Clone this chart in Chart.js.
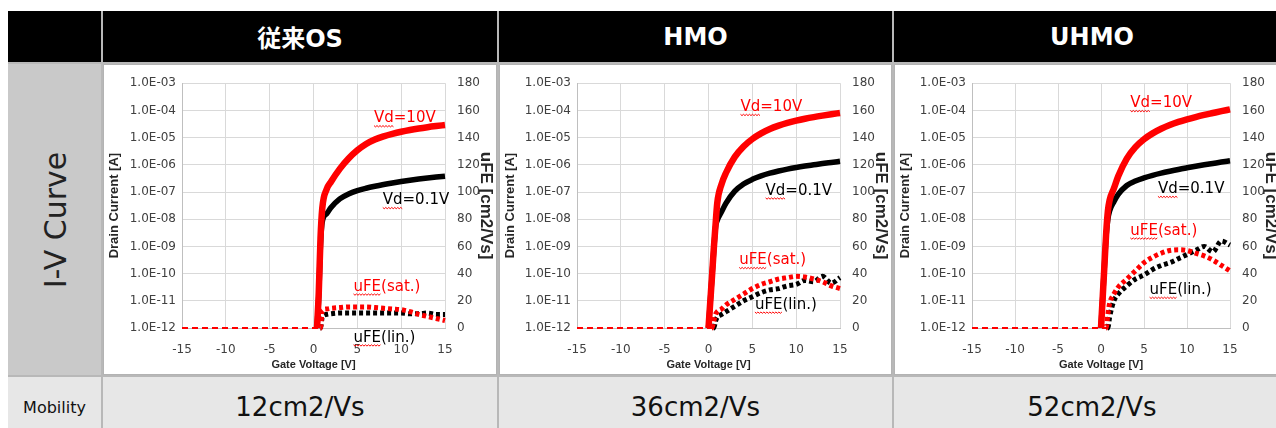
<!DOCTYPE html>
<html>
<head>
<meta charset="utf-8">
<script src="https://cdn.jsdelivr.net/npm/chart.js@4.4.1/dist/chart.umd.min.js"></script>
<style>
body { margin: 0; width: 1276px; height: 428px; overflow: hidden; background: #fff; position: relative;
       font-family: "DejaVu Sans", "Noto Sans CJK JP", sans-serif; }
.cell { position: absolute; box-sizing: border-box; overflow: hidden; }
.head { background: #000; color: #fff; font-weight: bold; font-size: 24px;
        display: flex; align-items: center; justify-content: center; }
.side { background: #c9c9c9; }
.mob  { background: #e7e7e7; color: #111; display: flex; align-items: center; justify-content: center; }
.plot { background: #fff; border: 1px solid #b3b3b3; }
.rot  { position: absolute; left: 50%; top: 50%; transform: translate(-50%, -50%) rotate(-90deg);
        white-space: nowrap; font-size: 30px; color: #222; }
.wrap { position: absolute; top: 64px; height: 311px; }
</style>
</head>
<body>
<div class="cell" style="left:8px;top:11px;width:1290px;height:430px;background:#b8b8b8"></div>

<div class="cell head" style="left:8px;top:11px;width:93px;height:51px"></div>
<div class="cell head" id="h0" style="left:103px;top:11px;width:394px;height:51px"></div>
<div class="cell head" id="h1" style="left:499px;top:11px;width:393px;height:51px"></div>
<div class="cell head" id="h2" style="left:894px;top:11px;width:396px;height:51px"></div>

<div class="cell side" style="left:8px;top:64px;width:93px;height:311px"><span class="rot" id="rowLabel"></span></div>
<div class="cell plot" style="left:103px;top:64px;width:394px;height:311px"></div>
<div class="cell plot" style="left:499px;top:64px;width:393px;height:311px"></div>
<div class="cell plot" style="left:894px;top:64px;width:396px;height:311px"></div>

<div class="cell mob" id="m" style="left:8px;top:377px;width:93px;height:60px;font-size:16px"></div>
<div class="cell mob" id="m0" style="left:103px;top:377px;width:394px;height:60px;font-size:26px"></div>
<div class="cell mob" id="m1" style="left:499px;top:377px;width:393px;height:60px;font-size:26px"></div>
<div class="cell mob" id="m2" style="left:894px;top:377px;width:396px;height:60px;font-size:26px"></div>

<div class="wrap" style="left:103px;width:394px"><canvas id="c0"></canvas></div>
<div class="wrap" style="left:499px;width:393px"><canvas id="c1"></canvas></div>
<div class="wrap" style="left:894px;width:388px"><canvas id="c2"></canvas></div>

<script>
// table labels
const devices = ['従来OS', 'HMO', 'UHMO'];
const mobility = ['12cm2/Vs', '36cm2/Vs', '52cm2/Vs'];
const rowLabel = 'I-V Curve';
const mobilityLabel = 'Mobility';

// axes
const gateTicks = [-15, -10, -5, 0, 5, 10, 15];
const currentTicks = [1e-12, 1e-11, 1e-10, 1e-9, 1e-8, 1e-7, 1e-6, 1e-5, 1e-4, 1e-3];
const currentTickLabels = ['1.0E-12', '1.0E-11', '1.0E-10', '1.0E-09', '1.0E-08',
                           '1.0E-07', '1.0E-06', '1.0E-05', '1.0E-04', '1.0E-03'];

// gate voltage [V], shared by every series
const gateVoltage = [-15, -10, -5, 0, 0.2, 0.4, 0.6, 0.8, 1, 1.5, 2, 3, 4, 5, 6, 7, 8, 9, 10, 11, 12, 13, 14, 15];

// 従来OS
const osId10 = [null, null, null, null, null, 1e-12, 2e-11, 2e-9, 2.5e-8, 1.26e-7, 2.4e-7, 7.1e-7, 1.7e-6, 3.4e-6, 5.8e-6, 8.5e-6, 1.11e-5, 1.37e-5, 1.64e-5, 1.91e-5, 2.17e-5, 2.42e-5, 2.66e-5, 2.9e-5];
const osId01 = [null, null, null, null, null, 1e-12, 1.5e-11, 1.2e-9, 8e-9, 1.58e-8, 2.7e-8, 5.6e-8, 8.5e-8, 1.12e-7, 1.37e-7, 1.62e-7, 1.88e-7, 2.15e-7, 2.43e-7, 2.71e-7, 2.99e-7, 3.26e-7, 3.53e-7, 3.79e-7];
const osSat  = [0, 0, 0, 0, 0, 0, 0, 0, 13, 14, 14.5, 15, 15.5, 15.5, 15.5, 15, 14.5, 14, 13.5, 12, 10, 8.5, 7, 5.5];
const osLin  = [0, 0, 0, 0, 0, 0, 0, 0, 8, 10, 10.5, 11, 11, 11, 11, 11, 11, 11, 11, 10.5, 10.5, 11, 10, 10];

// HMO
const hmoId10 = [null, null, null, 1e-12, 9e-12, 8e-11, 8e-10, 6e-9, 4e-8, 2.0e-7, 5.1e-7, 1.95e-6, 4.7e-6, 8.9e-6, 1.43e-5, 2.07e-5, 2.75e-5, 3.47e-5, 4.19e-5, 4.93e-5, 5.68e-5, 6.44e-5, 7.23e-5, 8.05e-5];
const hmoId01 = [null, null, null, 1e-12, 9e-12, 8e-11, 7e-10, 5e-9, 9e-9, 1.9e-8, 3.9e-8, 1.07e-7, 1.97e-7, 2.92e-7, 3.89e-7, 4.9e-7, 5.92e-7, 6.96e-7, 7.99e-7, 9.0e-7, 1.0e-6, 1.11e-6, 1.22e-6, 1.34e-6];
const hmoSat  = [0, 0, 0, 0, 0, 0, 5, 10, 12, 14, 17, 21, 25, 29, 32, 34, 36, 37, 38, 37.5, 36, 34, 31, 29];
const hmoLin  = [0, 0, 0, 0, 0, 0, 0, 5, 8, 10, 12, 16, 20, 23, 26, 28, 29, 31, 32, 35, 34, 38, 33, 37];

// UHMO
const uhmoId10 = [null, null, null, 1e-12, 1.4e-11, 2e-10, 3e-9, 2e-8, 5e-8, 1.35e-7, 3.8e-7, 1.7e-6, 4.47e-6, 8.7e-6, 1.43e-5, 2.11e-5, 2.9e-5, 3.76e-5, 4.68e-5, 5.69e-5, 6.8e-5, 8.0e-5, 9.4e-5, 1.09e-4];
const uhmoId01 = [null, null, null, 1e-12, 1.4e-11, 2e-10, 2.5e-9, 1e-8, 2e-8, 4.4e-8, 8.2e-8, 1.74e-7, 2.54e-7, 3.31e-7, 4.1e-7, 4.93e-7, 5.8e-7, 6.75e-7, 7.74e-7, 8.82e-7, 9.98e-7, 1.12e-6, 1.26e-6, 1.4e-6];
const uhmoSat  = [0, 0, 0, 0, 0, 0, 0, 10, 18, 25, 30, 36, 42, 48, 52, 55, 57, 57.5, 57, 55, 53, 50, 46, 42];
const uhmoLin  = [0, 0, 0, 0, 0, 0, 0, 0, 8, 20, 25, 31, 36, 39, 43, 46, 48, 51, 54, 57, 60, 56, 64, 61];

document.getElementById('rowLabel').textContent = rowLabel;
document.getElementById('m').textContent = mobilityLabel;
devices.forEach((d, i) => {
    document.getElementById('h' + i).textContent = d;
    document.getElementById('m' + i).textContent = mobility[i];
});

const RED = '#ff0000';
const BLACK = '#000000';
const TICK = '#404040';

function pts(values) {
    return gateVoltage.map((v, i) => ({x: v, y: values[i]}));
}

function currentSet(values, color, width) {
    return {data: pts(values), yAxisID: 'y', borderColor: color, borderWidth: width,
            pointRadius: 0, cubicInterpolationMode: 'monotone', clip: 6};
}

function mobilitySet(values, color) {
    const flat = c => c.p0.parsed.y === 0 && c.p1.parsed.y === 0;
    return {data: pts(values), yAxisID: 'y1', borderColor: color, borderWidth: 5,
            borderDash: [4, 3], pointRadius: 0, cubicInterpolationMode: 'monotone', clip: 6,
            segment: {
                borderWidth: c => flat(c) ? 1.8 : 5,
                borderDash: c => flat(c) ? [6, 4] : [4, 3]
            }};
}

// text labels on the plot, with the red wavy spell-check underline
function notesPlugin(items) {
    return {
        id: 'notes',
        afterDraw(chart) {
            const ctx = chart.ctx;
            ctx.save();
            ctx.font = '15px "DejaVu Sans"';
            ctx.textBaseline = 'middle';
            ctx.textAlign = 'left';
            items.forEach(n => {
                const px = chart.scales.x.getPixelForValue(n.x);
                const py = chart.scales[n.axis].getPixelForValue(n.y);
                ctx.fillStyle = n.color;
                ctx.fillText(n.text, px, py);
                const w = ctx.measureText(n.text.slice(0, n.wavy)).width;
                ctx.strokeStyle = RED;
                ctx.lineWidth = 1;
                ctx.beginPath();
                for (let k = 0, s = 0; k <= w; k += 1.5, s++) {
                    const yy = py + 7 + (s % 2 ? 1.3 : 0);
                    if (k === 0) ctx.moveTo(px + k, yy); else ctx.lineTo(px + k, yy);
                }
                ctx.stroke();
            });
            ctx.restore();
        }
    };
}

function makeChart(id, id10, id01, sat, lin, notes, leftW) {
    const grid = {color: '#d9d9d9', drawTicks: false};
    const tickFont = {size: 12, family: 'DejaVu Sans'};
    return new Chart(document.getElementById(id), {
        type: 'line',
        data: {datasets: [
            mobilitySet(sat, RED),
            currentSet(id10, RED, 6.5),
            mobilitySet(lin, BLACK),
            currentSet(id01, BLACK, 5.5)
        ]},
        options: {
            responsive: true,
            maintainAspectRatio: false,
            animation: false,
            layout: {padding: {top: 15, left: 0, right: 0, bottom: 0}},
            plugins: {legend: {display: false}, tooltip: {enabled: false}},
            scales: {
                x: {
                    type: 'linear', min: -15, max: 15,
                    afterBuildTicks: s => { s.ticks = gateTicks.map(v => ({value: v})); },
                    grid: grid, border: {color: '#bfbfbf'},
                    ticks: {padding: 15, color: TICK, font: tickFont, maxRotation: 0, autoSkip: false},
                    title: {display: true, text: 'Gate Voltage [V]', color: '#262626',
                            font: {size: 11, weight: 'bold', family: 'Liberation Sans'},
                            padding: {top: 3, bottom: 3}},
                    afterFit: s => { s.height = 47; }
                },
                y: {
                    type: 'logarithmic', position: 'left', min: 1e-12, max: 1e-3,
                    afterBuildTicks: s => { s.ticks = currentTicks.map(v => ({value: v})); },
                    grid: grid, border: {color: '#bfbfbf'},
                    ticks: {padding: 6, color: TICK, font: tickFont, autoSkip: false,
                            callback: (v, i) => currentTickLabels[i]},
                    title: {display: true, text: 'Drain Current [A]', color: '#262626',
                            font: {size: 13, weight: 'bold', family: 'Liberation Sans'},
                            padding: {top: 4, bottom: 4}},
                    afterFit: s => { s.width = leftW; }
                },
                y1: {
                    type: 'linear', position: 'right', min: 0, max: 180,
                    grid: {display: false, drawTicks: false}, border: {display: false},
                    ticks: {stepSize: 20, padding: 12, color: TICK, font: tickFont},
                    title: {display: true, text: 'uFE [cm2/Vs]', color: '#262626',
                            font: {size: 17, weight: 'bold', family: 'Liberation Sans'},
                            padding: {top: 1, bottom: 1}},
                    afterFit: s => { s.width = 52; }
                }
            }
        },
        plugins: [notesPlugin(notes)]
    });
}

makeChart('c0', osId10, osId01, osSat, osLin, [
    {text: 'Vd=10V', x: 6.9, y: 5.0e-5, axis: 'y', color: RED, wavy: 2},
    {text: 'Vd=0.1V', x: 7.9, y: 4.9e-8, axis: 'y', color: BLACK, wavy: 2},
    {text: 'uFE(sat.)', x: 4.56, y: 30.2, axis: 'y1', color: RED, wavy: 3},
    {text: 'uFE(lin.)', x: 4.56, y: -7.2, axis: 'y1', color: BLACK, wavy: 3}
], 79);

makeChart('c1', hmoId10, hmoId01, hmoSat, hmoLin, [
    {text: 'Vd=10V', x: 3.65, y: 1.3e-4, axis: 'y', color: RED, wavy: 2},
    {text: 'Vd=0.1V', x: 6.51, y: 1.1e-7, axis: 'y', color: BLACK, wavy: 2},
    {text: 'uFE(sat.)', x: 3.5, y: 49.7, axis: 'y1', color: RED, wavy: 3},
    {text: 'uFE(lin.)', x: 5.29, y: 16.9, axis: 'y1', color: BLACK, wavy: 3}
], 78);

makeChart('c2', uhmoId10, uhmoId01, uhmoSat, uhmoLin, [
    {text: 'Vd=10V', x: 3.41, y: 1.8e-4, axis: 'y', color: RED, wavy: 2},
    {text: 'Vd=0.1V', x: 6.62, y: 1.26e-7, axis: 'y', color: BLACK, wavy: 2},
    {text: 'uFE(sat.)', x: 3.41, y: 71.4, axis: 'y1', color: RED, wavy: 3},
    {text: 'uFE(lin.)', x: 5.65, y: 27.8, axis: 'y1', color: BLACK, wavy: 3}
], 78);
</script>
</body>
</html>
